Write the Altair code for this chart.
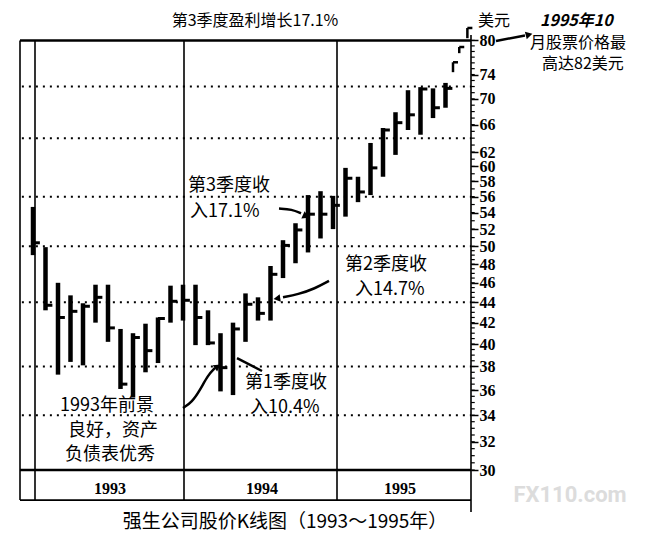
import altair as alt
import pandas as pd
import numpy as np

# monthly bars, Jan 1993 .. Oct 1995 (index 0 = Jan 1993)
bar_k = [0, 1, 2, 3, 4, 5, 6, 7, 8, 9, 10, 11,
         12, 13, 14, 15, 16, 17, 18, 19, 20, 21, 22, 23,
         24, 25, 26, 27, 28, 29, 30, 31, 32, 33]
bar_high = [54.7, 49.9, 46.0, 44.7, 43.9, 45.8, 45.8, 41.4, 41.0, 41.9, 42.5, 45.7,
            45.8, 45.8, 43.2, 41.0, 42.0, 44.9, 44.5, 47.8, 50.7, 52.7, 56.2, 56.7,
            56.1, 59.8, 58.6, 63.3, 65.5, 67.9, 71.4, 71.9, 71.7, 72.6]
bar_low = [49.0, 43.2, 37.3, 38.4, 38.1, 42.0, 40.2, 36.1, 35.4, 37.5, 38.3, 42.0,
           42.2, 39.9, 39.9, 35.9, 35.6, 40.2, 42.2, 42.2, 46.5, 48.1, 49.3, 50.9,
           52.0, 53.5, 55.3, 56.2, 58.6, 61.6, 65.2, 64.5, 67.0, 68.6]
bar_close = [50.4, 43.7, 42.5, 43.1, 43.6, 44.5, 41.5, 36.5, 40.6, 39.4, 42.4, 44.1,
             44.2, 42.5, 40.1, 37.9, 41.4, 43.8, 42.9, 46.9, 50.1, 51.9, 53.8, 53.8,
             54.9, 58.4, 56.6, 59.8, 65.2, 66.3, 67.5, 71.6, 68.6, 71.7]

# the October 1995 run up to 82
oct_k = [33.6, 34.1, 34.75]
oct_high = [76.1, 78.8, 82.3]
oct_low = [74.4, 77.7, 80.4]
oct_close = [76.1, 78.8, 82.3]

tick_labels = [30, 32, 34, 36, 38, 40, 42, 44, 46, 48, 50, 52, 54, 56, 58, 60, 62, 66, 70, 74, 80]
grid_levels = [34, 38, 44, 50, 56, 64, 72]
years = ["1993", "1994", "1995"]

CJK = "Noto Sans CJK SC"
XL, XR = -1.04, 35.04
xs = alt.Scale(domain=[XL, XR], nice=False, zero=False)
ys = alt.Scale(type="log", domain=[27.26, 86.14], nice=False, zero=False)

price_axis = alt.Axis(orient="right", values=tick_labels, title=None, domain=False, grid=False,
                      tickSize=7, tickWidth=1.5, tickColor="black", labelColor="black",
                      labelFont="Liberation Serif", labelFontWeight="bold", labelFontSize=16,
                      labelPadding=1, labelOverlap=False, labelBound=False, labelFlush=False)


def X(f, **kw):
    return alt.X(f, type="quantitative", scale=xs, axis=None, **kw)


def Y(f, **kw):
    return alt.Y(f, type="quantitative", scale=ys, axis=price_axis, **kw)


bars = pd.DataFrame({"k": bar_k, "high": bar_high, "low": bar_low, "close": bar_close})
octb = pd.DataFrame({"k": oct_k, "high": oct_high, "low": oct_low, "close": oct_close})

hl = alt.Chart(bars).mark_rule(color="black", strokeWidth=4.5).encode(
    x=X("k"), y=Y("low"), y2="high")
cl = alt.Chart(bars).transform_calculate(k2="datum.k + 0.55").mark_rule(
    color="black", strokeWidth=3).encode(x=X("k"), x2="k2:Q", y=Y("close"))
hl2 = alt.Chart(octb).mark_rule(color="black", strokeWidth=2.5).encode(
    x=X("k"), y=Y("low"), y2="high")
cl2 = alt.Chart(octb).transform_calculate(k2="datum.k + 0.4").mark_rule(
    color="black", strokeWidth=2.5).encode(x=X("k"), x2="k2:Q", y=Y("close"))

# minor ticks on the price axis
minor = pd.DataFrame({"v": np.concatenate([np.arange(30, 50, 0.5), np.arange(50, 80.5, 1.0)])})
minor["a"] = XR
minor["b"] = XR + 0.3
minor_l = alt.Chart(minor).mark_rule(color="black", strokeWidth=1.2).encode(
    x=X("a"), x2="b:Q", y=Y("v"))

grid = pd.DataFrame({"v": grid_levels, "a": XL + 0.15, "b": XR})
grid_l = alt.Chart(grid).mark_rule(color="black", strokeWidth=2, strokeDash=[2, 5]).encode(
    x=X("a"), x2="b:Q", y=Y("v"))

# frame: top / bottom lines, year band, separators, axis line
thick = pd.DataFrame({"a": [XL, XL], "b": [XR, XR], "y": [80, 30], "y2": [80, 30]})
thin = pd.DataFrame({"a": [XL, XL, 0.16, 12.08, 24.32, XR],
                     "b": [XR, XL, 0.16, 12.08, 24.32, XR],
                     "y": [28.01, 28.01, 28.01, 28.01, 28.01, 27.26],
                     "y2": [28.01, 80, 80, 80, 80, 81.0]})
thick_l = alt.Chart(thick).mark_rule(color="black", strokeWidth=2.5).encode(
    x=X("a"), x2="b:Q", y=Y("y"), y2="y2:Q")
thin_l = alt.Chart(thin).mark_rule(color="black", strokeWidth=1.6).encode(
    x=X("a"), x2="b:Q", y=Y("y"), y2="y2:Q")

# arrows
arrows = pd.DataFrame({
    "id": [1] * 5 + [2] * 2 + [3] * 3 + [4] * 4 + [5] * 2,
    "o": [0, 1, 2, 3, 4, 0, 1, 0, 1, 2, 0, 1, 2, 3, 0, 1],
    "k": [12.0, 12.72, 13.36, 14.0, 14.56, 16.32, 18.32, 19.68, 20.72, 21.44,
          23.68, 22.56, 21.2, 20.0, 37.04, 39.36],
    "p": [34.56, 35.04, 36.01, 37.26, 37.87, 38.74, 37.61, 54.5, 54.4, 53.9,
          46.2, 45.4, 44.8, 44.5, 79.9, 80.9],
})
arrow_l = alt.Chart(arrows).mark_line(color="black", strokeWidth=2.5, interpolate="basis").encode(
    x=X("k"), y=Y("p"), detail="id:N", order="o:Q")
heads = pd.DataFrame({"k": [14.7, 21.76, 19.6, 39.6], "p": [37.95, 53.6, 44.4, 81.0],
                      "ang": [55, 115, 262, 76]})
head_l = alt.Chart(heads).mark_point(shape="triangle", filled=True, size=60, color="black",
                                     opacity=1).encode(
    x=X("k"), y=Y("p"), angle=alt.Angle("ang:Q", scale=None))

# annotations
notes = pd.DataFrame({
    "t": ["第3季度收", "入17.1%", "第2季度收", "入14.7%", "第1季度收", "入10.4%",
          "1993年前景", "良好，资产", "负债表优秀"],
    "k": [12.4, 12.56, 24.96, 25.76, 16.96, 17.36, 2.16, 2.8, 2.56],
    "p": [57.4, 54.1, 47.9, 45.2, 36.6, 34.56, 34.72, 32.79, 31.04],
})
note_l = alt.Chart(notes).mark_text(align="left", baseline="middle", font=CJK, fontSize=18,
                                    color="black").encode(x=X("k"), y=Y("p"), text="t:N")
side = pd.DataFrame({
    "t": ["美元", "月股票价格最", "高达82美元"],
    "k": [35.6, 39.76, 40.72],
    "p": [83.6, 79.5, 75.8],
})
side_l = alt.Chart(side).mark_text(align="left", baseline="middle", font=CJK, fontSize=16,
                                   color="black").encode(x=X("k"), y=Y("p"), text="t:N")
head_note = pd.DataFrame({"t": ["1995年10"], "k": [40.56], "p": [83.6]})
head_note_l = alt.Chart(head_note).mark_text(align="left", baseline="middle", font=CJK,
                                             fontSize=16, fontWeight="bold", fontStyle="italic",
                                             color="black").encode(x=X("k"), y=Y("p"), text="t:N")
top_title = pd.DataFrame({"t": ["第3季度盈利增长17.1%"], "k": [17.76], "p": [83.6]})
top_l = alt.Chart(top_title).mark_text(align="center", baseline="middle", font=CJK, fontSize=16,
                                       color="black").encode(x=X("k"), y=Y("p"), text="t:N")

year_df = pd.DataFrame({"t": years, "k": [6.16, 18.32, 29.36], "p": [28.73] * 3})
year_l = alt.Chart(year_df).mark_text(align="center", baseline="middle", font="Liberation Serif",
                                      fontWeight="bold", fontSize=16, color="black").encode(
    x=X("k"), y=Y("p"), text="t:N")

cap = pd.DataFrame({"t": ["强生公司股价K线图（1993～1995年）"], "k": [20.16], "p": [26.65]})
cap_l = alt.Chart(cap).mark_text(align="center", baseline="middle", font=CJK, fontSize=19,
                                 color="black").encode(x=X("k"), y=Y("p"), text="t:N")

wm = pd.DataFrame({"t": ["FX110.com"], "k": [42.96], "p": [28.34]})
wm_l = alt.Chart(wm).mark_text(align="center", baseline="middle", font="Roboto", fontSize=22,
                               fontWeight="bold", color="#dcdcdc").encode(
    x=X("k"), y=Y("p"), text="t:N")

chart = alt.layer(
    grid_l, thin_l, thick_l, minor_l, hl, cl, hl2, cl2, arrow_l, head_l,
    note_l, side_l, head_note_l, top_l, year_l, cap_l, wm_l
).properties(
    width=451, height=504,
    autosize=alt.AutoSizeParams(type="none"),
    padding={"left": 12, "top": 0, "right": 180, "bottom": 22},
    background="white",
).configure_view(stroke=None)

chart.save("out.html", embed_options={"renderer": "svg", "actions": False})
